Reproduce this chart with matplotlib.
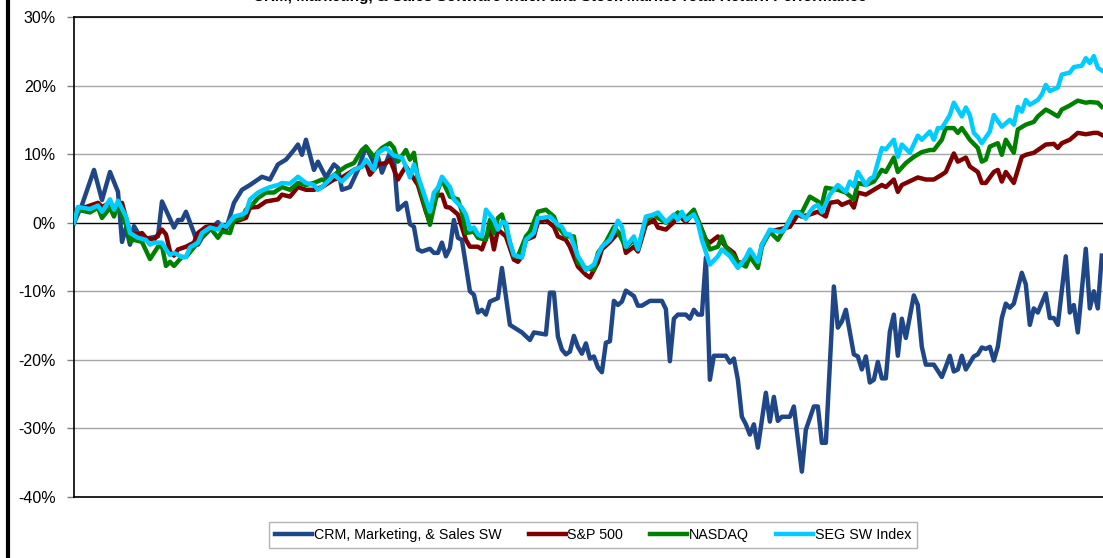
import matplotlib
matplotlib.use("Agg")
import matplotlib.pyplot as plt
from matplotlib.lines import Line2D


OUT_PATH = "out.png"
TITLE = "CRM, Marketing, & Sales Software Index and Stock Market Total Return Performance"

# trading day index and cumulative return (%) for each series
CRM_DAYS = [0, 2, 5, 7, 9, 11, 12, 13, 14, 15, 17, 19, 21, 22, 25, 26, 27, 28, 30, 31,
            32, 34, 36, 37, 38, 40, 42, 44, 47, 49, 51, 53, 55, 56, 57, 58, 60, 61, 63, 65,
            66, 67, 69, 71, 73, 75, 76, 77, 79, 80, 81, 83, 84, 85, 86, 87, 89, 90, 91, 92,
            93, 94, 95, 96, 97, 99, 100, 101, 102, 103, 104, 106, 107, 109, 112, 114, 115, 118, 119, 120,
            121, 122, 123, 124, 125, 126, 127, 128, 129, 130, 131, 132, 133, 134, 135, 136, 137, 138, 140, 141,
            142, 144, 147, 148, 149, 150, 151, 153, 154, 155, 156, 157, 158, 159, 160, 163, 164, 165, 166, 167,
            168, 169, 170, 171, 173, 174, 175, 176, 177, 179, 180, 182, 183, 185, 186, 187, 188, 190, 191, 192,
            193, 195, 196, 197, 198, 199, 200, 201, 202, 203, 204, 205, 206, 207, 208, 210, 211, 212, 213, 215,
            217, 218, 219, 220, 221, 222, 223, 225, 226, 227, 228, 229, 230, 231, 232, 233, 234, 235, 237, 238,
            239, 240, 241, 243, 244, 245, 246, 248, 249, 250, 251, 253, 254, 255, 256, 257]
CRM_VALUES = [0.0, 2.6, 7.7, 3.3, 7.4, 4.5, -2.8, -0.7, -3.2, -0.5, -2.5, -2.2, -2.0, 3.1, -0.7, 0.4, 0.4, 1.6, -1.5, -3.2,
              -2.2, -1.0, 0.1, -0.7, -1.0, 2.9, 4.8, 5.5, 6.7, 6.3, 8.5, 9.2, 10.6, 11.4, 9.9, 12.1, 7.7, 8.9, 6.6, 8.5,
              8.0, 4.8, 5.2, 7.7, 11.1, 8.7, 9.6, 7.3, 10.2, 9.2, 1.9, 2.9, -0.2, -0.6, -3.9, -4.2, -3.8, -4.4, -4.4, -2.9,
              -4.9, -3.7, 0.4, -2.2, -2.5, -10.0, -10.5, -13.1, -12.7, -13.4, -11.5, -11.0, -6.6, -14.9, -16.0, -17.1, -16.0, -16.3, -10.2, -10.2,
              -16.6, -18.5, -19.2, -18.8, -16.5, -18.1, -19.1, -17.6, -19.8, -19.5, -21.1, -21.8, -17.5, -17.3, -11.4, -12.0, -11.5, -9.9, -10.7, -12.1,
              -12.1, -11.4, -11.4, -12.6, -20.2, -14.0, -13.4, -13.4, -14.0, -12.7, -13.4, -13.4, -5.1, -22.9, -19.4, -19.4, -20.4, -19.8, -22.9, -28.3,
              -29.4, -30.9, -29.4, -32.8, -24.8, -29.0, -25.4, -28.9, -28.3, -28.3, -26.8, -36.3, -30.2, -26.8, -26.8, -32.1, -32.1, -9.3, -15.3, -14.4,
              -12.7, -19.2, -19.5, -21.4, -19.5, -23.3, -22.9, -20.3, -22.7, -22.7, -15.9, -13.4, -19.4, -14.0, -16.8, -10.6, -12.0, -18.1, -20.7, -20.7,
              -22.5, -21.0, -19.4, -21.7, -21.4, -19.4, -21.4, -19.5, -19.2, -18.2, -18.4, -18.1, -20.1, -18.1, -13.9, -11.8, -12.4, -11.8, -7.3, -9.0,
              -14.9, -12.5, -13.1, -10.3, -13.9, -13.9, -14.9, -4.9, -13.1, -12.0, -16.0, -3.8, -12.5, -10.0, -12.5, -4.8]

SP_DAYS = [0, 1, 3, 6, 7, 9, 10, 12, 13, 14, 16, 17, 18, 20, 22, 23, 24, 25, 26, 28,
           30, 31, 33, 35, 37, 38, 40, 43, 44, 46, 48, 51, 52, 54, 56, 58, 60, 62, 65, 67,
           70, 72, 73, 74, 76, 78, 79, 81, 82, 83, 86, 88, 89, 90, 92, 93, 94, 96, 98, 99,
           101, 102, 104, 105, 106, 108, 110, 111, 112, 113, 115, 116, 118, 120, 121, 123, 124, 126, 128, 129,
           131, 132, 134, 136, 137, 138, 140, 141, 143, 145, 146, 148, 150, 151, 153, 155, 156, 158, 159, 161,
           163, 165, 166, 168, 169, 171, 172, 174, 176, 179, 181, 182, 184, 186, 188, 189, 191, 192, 194, 195,
           196, 198, 200, 202, 203, 205, 206, 207, 211, 213, 215, 217, 218, 220, 221, 223, 224, 226, 227, 228,
           230, 231, 232, 233, 235, 237, 238, 240, 241, 243, 245, 246, 247, 249, 251, 253, 255, 256, 257]
SP_VALUES = [0.0, 2.2, 2.3, 2.9, 2.3, 2.9, 2.2, 2.9, 0.7, -1.5, -1.7, -1.5, -2.2, -2.5, -1.0, -1.7, -4.2, -4.8, -3.9, -3.5,
             -2.9, -1.5, -0.6, -0.4, -0.7, -0.7, 0.1, 0.7, 2.2, 2.3, 3.1, 3.4, 4.1, 3.8, 5.2, 4.8, 4.8, 5.2, 6.3, 6.6,
             7.7, 8.2, 8.7, 7.0, 8.5, 8.7, 9.2, 6.3, 7.3, 8.2, 5.5, 1.6, 0.0, 3.8, 4.1, 2.3, 2.2, 1.2, -2.5, -3.5,
             -3.5, -3.9, -0.7, -3.9, -1.0, -2.0, -5.4, -5.7, -4.9, -2.5, -2.0, 0.1, 0.4, -0.6, -2.0, -2.5, -3.5, -6.4, -7.6, -8.0,
             -5.8, -3.9, -2.8, -1.5, -1.7, -4.4, -3.5, -4.2, -0.3, 0.4, -0.7, -1.0, 0.1, 1.2, 0.1, 1.5, 0.4, -2.5, -2.9, -2.0,
             -3.5, -4.4, -5.8, -5.8, -4.9, -6.1, -3.2, -1.3, -1.0, -0.6, 1.2, 0.9, 1.2, 1.6, 0.9, 2.9, 3.1, 2.6, 3.1, 2.2,
             4.4, 4.1, 4.8, 5.5, 5.2, 6.3, 4.5, 5.5, 6.6, 6.3, 6.3, 7.0, 7.4, 10.1, 8.9, 9.5, 8.2, 7.4, 5.8, 5.8,
             7.4, 7.7, 6.0, 7.4, 5.8, 9.6, 9.9, 10.2, 10.6, 11.4, 11.5, 10.9, 11.6, 12.1, 13.1, 12.9, 13.1, 13.1, 12.8]

NASDAQ_DAYS = [0, 1, 4, 6, 7, 9, 10, 11, 13, 14, 15, 17, 19, 21, 22, 23, 24, 25, 27, 28,
               30, 32, 34, 36, 37, 39, 40, 42, 43, 45, 46, 48, 50, 52, 54, 56, 58, 60, 62, 63,
               66, 68, 70, 72, 73, 75, 76, 77, 79, 80, 81, 83, 84, 85, 86, 89, 91, 92, 94, 96,
               97, 98, 100, 101, 103, 104, 105, 106, 107, 109, 110, 111, 113, 114, 116, 118, 120, 121, 123, 125,
               126, 128, 130, 131, 133, 135, 136, 138, 140, 141, 143, 145, 146, 148, 150, 151, 153, 155, 156, 158,
               159, 161, 162, 163, 165, 166, 168, 169, 171, 172, 174, 176, 177, 178, 180, 182, 184, 186, 187, 188,
               191, 193, 195, 196, 198, 200, 202, 203, 205, 206, 208, 210, 212, 214, 215, 217, 218, 220, 221, 222,
               224, 226, 227, 228, 229, 231, 232, 233, 235, 236, 238, 240, 241, 243, 244, 246, 247, 249, 251, 253,
               254, 256, 257]
NASDAQ_VALUES = [0.0, 1.9, 1.5, 2.2, 0.7, 2.2, 0.9, 2.6, -0.3, -2.8, -2.5, -2.8, -5.3, -3.5, -3.4, -6.3, -5.7, -6.3, -5.0, -5.0,
                 -3.6, -2.0, -0.7, -2.2, -1.3, -1.5, 0.4, 0.7, 1.9, 2.9, 3.6, 4.4, 4.4, 5.2, 4.8, 5.8, 5.5, 5.8, 6.3, 6.0,
                 7.4, 8.2, 8.7, 10.6, 11.1, 9.6, 10.3, 10.9, 11.6, 10.9, 8.9, 10.6, 9.2, 10.2, 6.3, -0.3, 4.8, 6.3, 3.8, 3.4,
                 1.6, -1.5, -1.3, -2.2, -2.5, 0.4, -1.5, 0.7, 1.2, -2.9, -4.9, -4.9, -2.0, -1.3, 1.6, 1.9, 0.9, -0.6, -2.0, -2.0,
                 -5.8, -6.6, -6.9, -4.4, -2.8, -0.6, -1.3, -3.6, -2.5, -3.9, 0.4, 1.2, 0.7, 0.0, 0.9, 1.5, 0.7, 1.9, 0.4, -2.5,
                 -3.9, -3.5, -2.0, -3.5, -4.9, -5.8, -6.4, -4.9, -6.6, -3.5, -1.3, -2.5, -1.5, -0.6, 1.5, 1.5, 3.8, 3.1, 2.6, 5.1,
                 4.8, 4.4, 3.4, 5.8, 5.5, 6.0, 7.7, 7.4, 9.5, 7.4, 8.7, 9.6, 10.3, 10.6, 10.6, 12.1, 13.8, 13.8, 13.1, 13.8,
                 12.1, 10.9, 8.9, 9.2, 11.1, 11.6, 9.9, 12.1, 10.2, 13.6, 14.3, 14.7, 15.5, 16.5, 16.2, 15.5, 16.5, 17.1, 17.8, 17.5,
                 17.6, 17.5, 16.9]

SEG_DAYS = [0, 1, 2, 4, 6, 7, 9, 10, 11, 13, 14, 16, 18, 19, 20, 22, 23, 24, 25, 27,
            28, 29, 31, 32, 34, 36, 37, 38, 40, 42, 43, 44, 46, 47, 49, 51, 52, 54, 56, 58,
            60, 61, 62, 64, 65, 67, 70, 72, 73, 75, 76, 78, 80, 82, 83, 84, 85, 87, 89, 90,
            91, 92, 94, 95, 97, 98, 99, 100, 101, 102, 103, 105, 106, 107, 108, 109, 110, 112, 113, 115,
            116, 117, 119, 121, 122, 123, 124, 126, 127, 128, 130, 131, 132, 134, 135, 136, 137, 138, 140, 141,
            143, 145, 146, 148, 150, 151, 152, 153, 155, 156, 157, 159, 161, 162, 164, 166, 168, 169, 171, 172,
            174, 176, 177, 178, 180, 181, 183, 184, 185, 186, 187, 189, 191, 193, 194, 195, 196, 198, 199, 200,
            202, 203, 204, 205, 206, 207, 209, 211, 212, 214, 215, 216, 217, 219, 220, 222, 223, 224, 225, 226,
            227, 229, 230, 232, 234, 235, 236, 237, 238, 239, 241, 242, 243, 244, 246, 247, 249, 250, 252, 253,
            254, 255, 256, 257]
SEG_VALUES = [0.0, 2.3, 2.2, 2.0, 2.5, 1.6, 3.4, 1.9, 3.2, 0.9, -1.5, -2.2, -2.5, -3.2, -2.9, -2.9, -3.9, -4.7, -4.4, -5.0,
              -5.0, -3.6, -2.9, -1.5, -0.7, -1.0, -0.3, -0.6, 0.9, 1.2, 1.5, 3.4, 4.4, 4.7, 5.2, 5.5, 5.8, 5.7, 6.7, 5.8,
              5.5, 4.8, 5.2, 6.3, 7.0, 6.0, 7.7, 8.2, 9.2, 7.7, 10.2, 10.9, 9.8, 9.5, 8.2, 6.6, 8.5, 5.1, 1.6, 4.4,
              5.1, 6.7, 5.2, 3.4, 2.2, 1.2, -1.0, -0.7, -1.7, -2.0, 1.9, 0.4, -1.0, 0.1, 0.0, -2.9, -4.7, -5.1, -2.5, -1.5,
              0.7, 0.7, 0.9, -0.3, -0.6, -1.7, -1.7, -4.9, -5.8, -6.9, -6.1, -4.7, -3.5, -2.5, -1.3, 0.3, -0.6, -3.5, -2.0, -3.9,
              0.9, 1.2, 1.5, 0.1, 1.2, 0.4, 1.6, 0.4, 1.2, 0.0, -2.5, -6.1, -4.9, -3.9, -4.9, -6.6, -5.1, -3.9, -5.7, -3.2,
              -1.0, -1.3, -1.3, -0.7, 1.5, 1.5, 0.6, 1.6, 2.3, 2.6, 1.5, 4.1, 5.5, 4.5, 6.0, 5.3, 7.4, 5.5, 6.4, 6.7,
              10.9, 10.7, 11.4, 12.1, 9.6, 11.4, 10.2, 12.7, 12.1, 13.3, 12.1, 13.8, 13.8, 15.7, 17.5, 15.5, 16.8, 15.7, 13.1, 12.5,
              11.6, 13.3, 15.7, 14.0, 15.0, 14.3, 16.9, 16.2, 17.9, 17.2, 17.9, 18.7, 20.1, 19.2, 19.7, 21.6, 21.9, 22.7, 22.9, 24.0,
              23.3, 24.3, 22.6, 22.2]

SERIES_LABELS = ["CRM, Marketing, & Sales SW", "S&P 500", "NASDAQ", "SEG SW Index"]
SERIES_COLORS = ["#1f4788", "#7f0000", "#008000", "#00ccff"]
Y_TICKS = [-40, -30, -20, -10, 0, 10, 20, 30]


def main():
    plt.rcParams["font.family"] = ["Liberation Sans", "DejaVu Sans"]

    fig = plt.figure(figsize=(11.03, 5.58), dpi=100)
    ax = fig.add_axes([74 / 1103, 61 / 558, 1 - 74 / 1103, 480 / 558])

    for y in Y_TICKS:
        if y == 0:
            continue
        ax.axhline(y, color="#a6a6a6", linewidth=1.0, zorder=1)
    ax.axhline(0, color="black", linewidth=1.0, zorder=1)

    data = [
        (CRM_DAYS, CRM_VALUES),
        (SP_DAYS, SP_VALUES),
        (NASDAQ_DAYS, NASDAQ_VALUES),
        (SEG_DAYS, SEG_VALUES),
    ]
    for (days, values), label, color in zip(data, SERIES_LABELS, SERIES_COLORS):
        ax.plot(days, values, color=color, linewidth=3.2, label=label, zorder=3,
                solid_joinstyle="round")

    ax.set_xlim(0, 257.3)
    ax.set_ylim(-40, 30)
    ax.set_yticks(Y_TICKS)
    ax.set_yticklabels([f"{y}%" for y in Y_TICKS], fontsize=11.5)
    ax.tick_params(axis="y", direction="out", length=5, width=1, color="#808080", pad=8)
    ax.set_xticks([])
    ax.spines["right"].set_visible(False)
    for side in ["left", "top", "bottom"]:
        ax.spines[side].set_color("black")
        ax.spines[side].set_linewidth(1.2)

    leg = fig.legend(
        loc="center",
        bbox_to_anchor=(593 / 1103, 1 - 535 / 558),
        ncol=4,
        fontsize=10.3,
        frameon=True,
        fancybox=False,
        edgecolor="#a0a0a0",
        handlelength=2.6,
        handletextpad=0.1,
        columnspacing=1.9,
        borderpad=0.45,
        borderaxespad=0.0,
    )
    leg.get_frame().set_linewidth(1.0)
    for line in leg.get_lines():
        line.set_linewidth(3.2)

    # chart border on the left and the clipped title at the very top
    fig.add_artist(Line2D([8 / 1103, 8 / 1103], [0, 1], color="black", linewidth=3.0,
                          transform=fig.transFigure))
    fig.text(560 / 1103, 1 - 0.8 / 558, TITLE, ha="center", va="baseline",
             fontsize=11, fontweight="bold")

    fig.savefig(OUT_PATH, dpi=100)
    plt.close(fig)


if __name__ == "__main__":
    main()
